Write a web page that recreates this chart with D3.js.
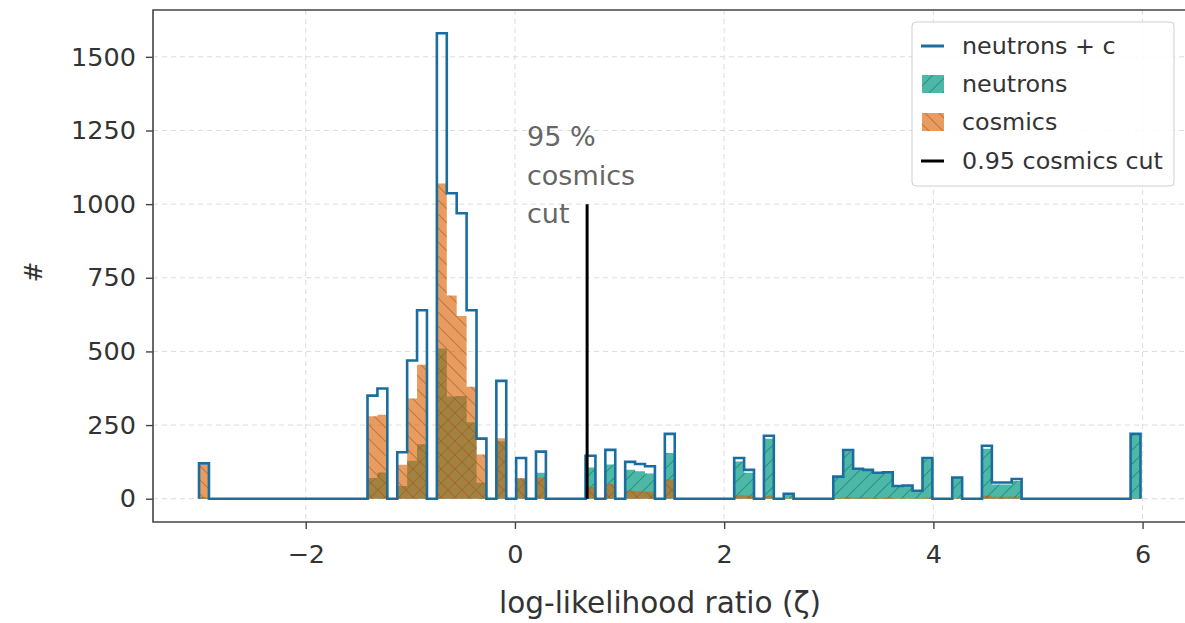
<!DOCTYPE html>
<html>
<head>
<meta charset="utf-8">
<script src="https://cdn.jsdelivr.net/npm/d3@7"></script>
<style>
  body { margin: 0; background: #fff; }
  svg { display: block; font-family: "DejaVu Sans", sans-serif; }
</style>
</head>
<body>
<svg width="1185" height="623"></svg>
<script>
// histogram bins: first edge and width (log-likelihood units)
const binStart = -3.02;
const binWidth = 0.09474;
const nBins = 95;

// non-empty bins: index, neutrons count, cosmics count
const binIndex = [0, 17, 18, 20, 21, 22, 24, 25, 26, 27, 28, 30, 32, 34, 39, 41, 43, 44, 45, 47,
  54, 55, 57, 59, 64, 65, 66, 67, 68, 69, 70, 71, 72, 73, 76, 79, 80, 81, 82, 94];
const neutronCounts = [5, 70, 89, 43, 129, 185, 510, 347, 349, 260, 54, 195, 68, 88, 106, 116, 98, 93, 86, 155,
  126, 88, 204, 15, 72, 160, 98, 94, 85, 87, 41, 43, 25, 134, 70, 170, 48, 48, 60, 218];
const cosmicCounts = [115, 280, 285, 115, 340, 455, 1070, 690, 620, 380, 150, 205, 70, 72, 40, 50, 27, 25, 24, 65,
  12, 10, 10, 2, 3, 5, 4, 4, 3, 3, 2, 2, 2, 4, 2, 10, 7, 7, 7, 2];

const cutValue = 0.69;
const cutHeight = 1000;

const xTicks = [-2, 0, 2, 4, 6];
const yTicks = [0, 250, 500, 750, 1000, 1250, 1500];

const legendItems = ['neutrons + c', 'neutrons', 'cosmics', '0.95 cosmics cut'];

const colTotal = '#1b6d9f';
const colNeut = '#11a08a';
const colCosm = '#d95f02';

const svg = d3.select('svg');
const pLeft = 153, pTop = 10, pBottom = 522;

const x = d3.scaleLinear().domain([-3.46, 6.44]).range([pLeft, 1188.6]);
const y = d3.scaleLinear().domain([-79, 1659]).range([pBottom, pTop]);

// full arrays
const neut = new Array(nBins).fill(0);
const cosm = new Array(nBins).fill(0);
binIndex.forEach((k, i) => { neut[k] = neutronCounts[i]; cosm[k] = cosmicCounts[i]; });
const total = neut.map((v, i) => v + cosm[i]);
const edges = d3.range(nBins + 1).map(i => binStart + i * binWidth);

// hatch patterns
const defs = svg.append('defs');
function hatch(id, color, dir) {
  const p = defs.append('pattern').attr('id', id)
    .attr('patternUnits', 'userSpaceOnUse').attr('width', 14).attr('height', 14);
  const d = dir > 0 ? 'M-2,16 L16,-2 M-2,2 L2,-2 M12,16 L16,12' : 'M-2,-2 L16,16 M-2,12 L2,16 M12,-2 L16,2';
  p.append('path').attr('d', d).attr('stroke', color).attr('stroke-width', 1.2).attr('fill', 'none');
}
hatch('hN', 'rgba(10,110,95,0.5)', 1);
hatch('hC', 'rgba(170,80,10,0.5)', -1);
defs.append('clipPath').attr('id', 'plotClip').append('rect')
  .attr('x', pLeft).attr('y', pTop).attr('width', 1185 - pLeft).attr('height', pBottom - pTop);

// grid
const grid = svg.append('g').attr('stroke', '#dcdcdc').attr('stroke-dasharray', '5,4').attr('stroke-width', 1);
grid.selectAll('.gx').data(xTicks).enter().append('line')
  .attr('x1', d => x(d)).attr('x2', d => x(d)).attr('y1', pTop).attr('y2', pBottom);
grid.selectAll('.gy').data(yTicks).enter().append('line')
  .attr('x1', pLeft).attr('x2', 1185).attr('y1', d => y(d)).attr('y2', d => y(d));

const plot = svg.append('g').attr('clip-path', 'url(#plotClip)');

function filledPath(vals) {
  let p = '';
  vals.forEach((v, i) => {
    if (v <= 0) return;
    p += `M${x(edges[i])},${y(0)}V${y(v)}H${x(edges[i + 1])}V${y(0)}Z`;
  });
  return p;
}
function stepPath(vals) {
  let p = `M${x(edges[0])},${y(0)}`;
  vals.forEach((v, i) => { p += `V${y(v)}H${x(edges[i + 1])}`; });
  return p + `V${y(0)}`;
}

// neutrons then cosmics, overlaid
plot.append('path').attr('d', filledPath(neut)).attr('fill', colNeut).attr('fill-opacity', 0.75);
plot.append('path').attr('d', filledPath(neut)).attr('fill', 'url(#hN)');
plot.append('path').attr('d', filledPath(cosm)).attr('fill', colCosm).attr('fill-opacity', 0.62);
plot.append('path').attr('d', filledPath(cosm)).attr('fill', 'url(#hC)');

plot.append('path').attr('d', stepPath(total))
  .attr('fill', 'none').attr('stroke', colTotal).attr('stroke-width', 2.6).attr('stroke-linejoin', 'miter');

// cut line
plot.append('line').attr('x1', x(cutValue)).attr('x2', x(cutValue))
  .attr('y1', y(0)).attr('y2', y(cutHeight)).attr('stroke', '#000').attr('stroke-width', 3);

const ann = svg.append('text').attr('fill', '#666').attr('font-size', 27);
['95 %', 'cosmics', 'cut'].forEach((t, i) => {
  ann.append('tspan').attr('x', 527).attr('y', 146 + i * 38.5).text(t);
});

// axes
const xAxis = svg.append('g').attr('transform', `translate(0,${pBottom})`)
  .call(d3.axisBottom(x).tickValues(xTicks).tickSize(7).tickPadding(16)
    .tickFormat(d => d < 0 ? '\u2212' + Math.abs(d) : d));
const yAxis = svg.append('g').attr('transform', `translate(${pLeft},0)`)
  .call(d3.axisLeft(y).tickValues(yTicks).tickSize(7).tickPadding(10).tickFormat(d3.format('d')));
[xAxis, yAxis].forEach(a => {
  a.select('.domain').remove();
  a.selectAll('line').attr('stroke', '#444').attr('stroke-width', 1.4);
  a.selectAll('text').attr('font-size', 25.5).attr('fill', '#333').attr('font-family', '"DejaVu Sans", sans-serif');
});

// spines
svg.append('path').attr('d', `M1185,${pTop}H${pLeft}V${pBottom}H1185`)
  .attr('fill', 'none').attr('stroke', '#444').attr('stroke-width', 1.6);

svg.append('text').attr('x', 660).attr('y', 613).attr('text-anchor', 'middle')
  .attr('font-size', 29.5).attr('fill', '#333').text('log-likelihood ratio (\u03b6)');
svg.append('text').attr('transform', 'translate(42,272) rotate(-90)').attr('text-anchor', 'middle')
  .attr('font-size', 25).attr('fill', '#333').text('#');

// legend
const lg = svg.append('g');
lg.append('rect').attr('x', 912).attr('y', 22).attr('width', 262).attr('height', 164).attr('rx', 4)
  .attr('fill', '#fff').attr('fill-opacity', 0.85).attr('stroke', '#cfcfcf');
const rowY = [46, 84, 122, 161];
legendItems.forEach((t, i) => {
  const yy = rowY[i];
  if (i === 0 || i === 3) {
    lg.append('line').attr('x1', 921).attr('x2', 944).attr('y1', yy).attr('y2', yy)
      .attr('stroke', i === 0 ? colTotal : '#000').attr('stroke-width', 3);
  } else {
    const c = i === 1 ? colNeut : colCosm;
    lg.append('rect').attr('x', 922).attr('y', yy - 9).attr('width', 22).attr('height', 18)
      .attr('fill', c).attr('fill-opacity', i === 1 ? 0.75 : 0.62);
    lg.append('rect').attr('x', 922).attr('y', yy - 9).attr('width', 22).attr('height', 18)
      .attr('fill', i === 1 ? 'url(#hN)' : 'url(#hC)');
  }
  lg.append('text').attr('x', 962).attr('y', yy + 8).attr('font-size', 23.8).attr('fill', '#333').text(t);
});
</script>
</body>
</html>
